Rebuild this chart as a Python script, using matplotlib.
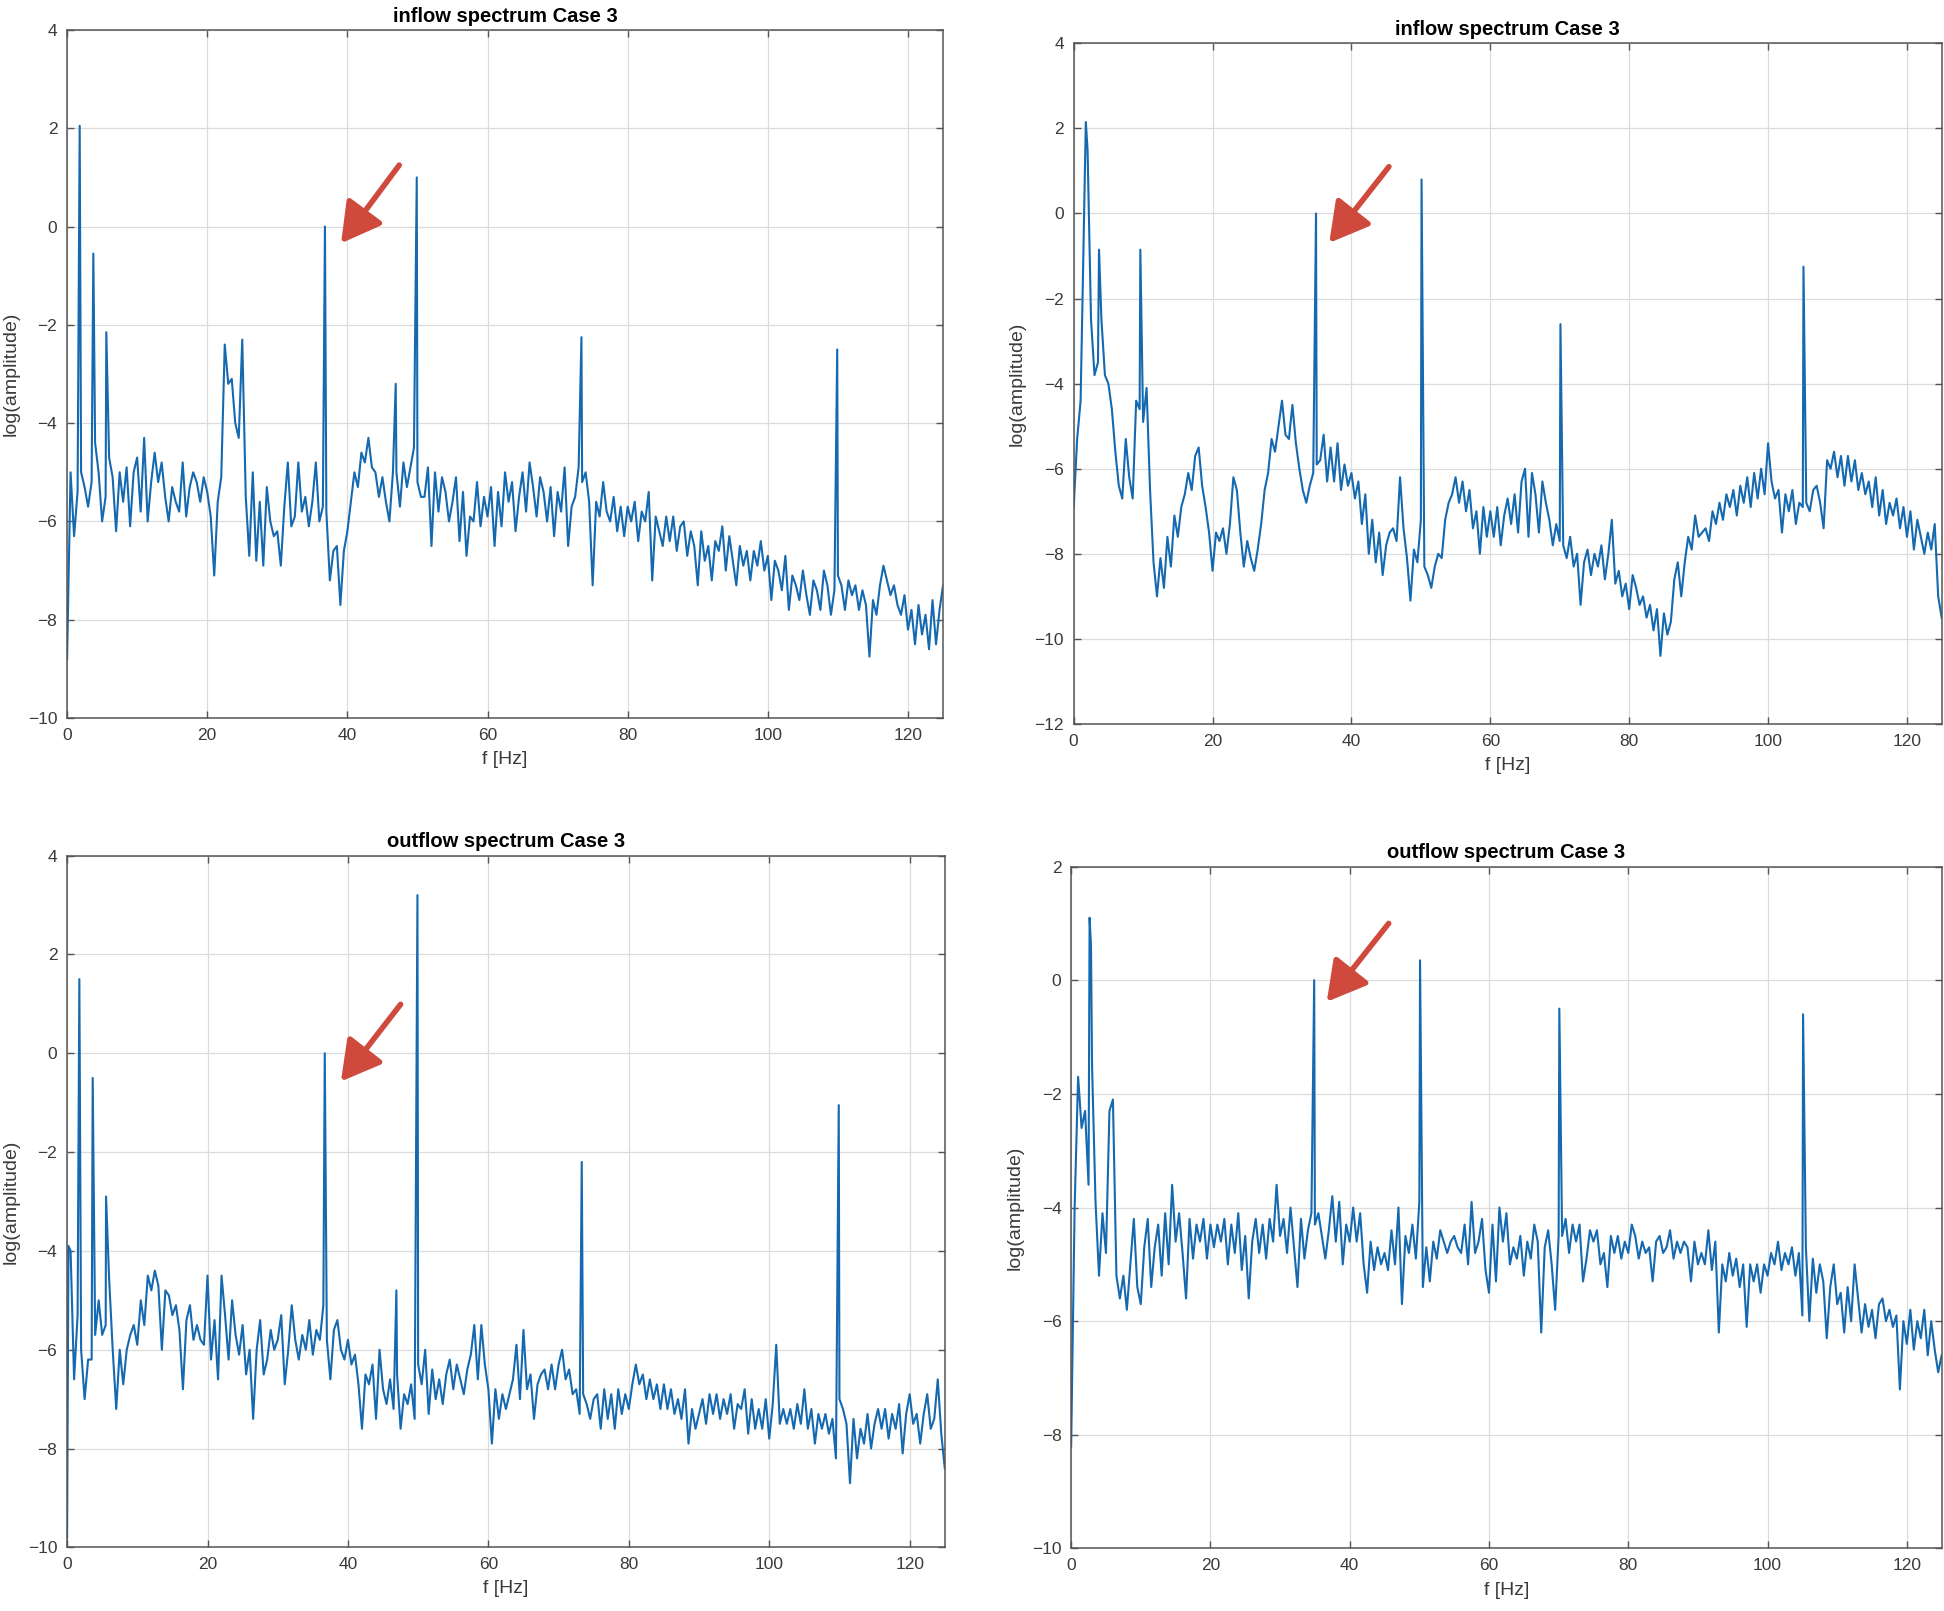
"""
Inflow / outflow spectra, Case 3 (four panels, MATLAB-like styling).
"""

import numpy as np
import matplotlib
matplotlib.use("Agg")
import matplotlib.pyplot as plt

plt.rcParams["font.family"] = ["Liberation Sans", "DejaVu Sans"]

# ---------------------------------------------------------------------------
#  Data: log(amplitude) sampled every 0.5 Hz (one row = 5 Hz), plus spikes
# ---------------------------------------------------------------------------

df = 0.5

inflow_left = [
    -8.8, -5.0, -6.3, -5.4, -5.0, -5.3, -5.7, -5.2, -4.4, -5.0,
    -6.0, -5.5, -4.7, -5.1, -6.2, -5.0, -5.6, -4.9, -6.1, -5.0,
    -4.7, -5.8, -4.3, -6.0, -5.2, -4.6, -5.2, -4.8, -5.5, -6.0,
    -5.3, -5.6, -5.8, -4.8, -5.9, -5.3, -5.0, -5.2, -5.6, -5.1,
    -5.4, -5.9, -7.1, -5.6, -5.1, -2.4, -3.2, -3.1, -4.0, -4.3,
    -2.3, -5.5, -6.7, -5.0, -6.8, -5.6, -6.9, -5.3, -6.0, -6.3,
    -6.2, -6.9, -5.7, -4.8, -6.1, -5.9, -4.8, -5.8, -5.5, -6.1,
    -5.6, -4.8, -6.0, -5.7, -5.8, -7.2, -6.6, -6.5, -7.7, -6.6,
    -6.2, -5.6, -5.0, -5.3, -4.6, -4.8, -4.3, -4.9, -5.0, -5.5,
    -5.1, -5.6, -6.0, -5.0, -5.0, -5.7, -4.8, -5.3, -4.9, -4.5,
    -5.2, -5.5, -5.5, -4.9, -6.5, -5.0, -5.8, -5.1, -5.4, -6.0,
    -5.6, -5.1, -6.4, -5.4, -6.7, -5.9, -6.0, -5.2, -6.1, -5.5,
    -5.9, -5.3, -6.5, -5.4, -6.1, -5.0, -5.6, -5.2, -6.2, -5.5,
    -5.0, -5.8, -4.8, -5.3, -5.9, -5.1, -5.4, -6.0, -5.3, -6.3,
    -5.4, -5.8, -4.9, -6.5, -5.7, -5.5, -4.9, -5.2, -5.0, -5.6,
    -7.3, -5.6, -5.9, -5.2, -5.8, -6.0, -5.5, -6.2, -5.7, -6.3,
    -5.7, -6.0, -5.6, -6.4, -5.8, -6.0, -5.4, -7.2, -5.9, -6.2,
    -6.5, -5.9, -6.4, -5.9, -6.6, -6.1, -6.0, -6.7, -6.2, -6.5,
    -7.3, -6.2, -6.8, -6.5, -7.2, -6.4, -6.6, -6.1, -7.0, -6.3,
    -6.8, -7.3, -6.5, -6.9, -6.6, -7.2, -6.6, -6.9, -6.4, -7.0,
    -6.7, -7.6, -6.8, -7.0, -7.4, -6.7, -7.8, -7.1, -7.3, -7.6,
    -7.0, -7.5, -7.9, -7.2, -7.4, -7.8, -7.0, -7.3, -7.9, -7.4,
    -7.1, -7.3, -7.8, -7.2, -7.5, -7.3, -7.8, -7.4, -7.7, -8.75,
    -7.6, -7.9, -7.3, -6.9, -7.2, -7.5, -7.3, -7.7, -7.9, -7.5,
    -8.2, -7.8, -8.5, -7.7, -8.3, -7.9, -8.6, -7.6, -8.5, -7.8,
    -7.3,
]
inflow_left_peak_f = [1.8, 3.75, 5.6, 36.8, 46.9, 49.9, 73.4, 109.9]
inflow_left_peak_v = [2.05, -0.55, -2.15, 0.0, -3.2, 1.0, -2.25, -2.5]

inflow_right = [
    -6.9, -5.3, -4.4, 0.0, 1.5, -2.5, -3.8, -3.5, -2.5, -3.8,
    -4.0, -4.6, -5.6, -6.4, -6.7, -5.3, -6.2, -6.7, -4.4, -4.6,
    -4.9, -4.1, -6.5, -8.2, -9.0, -8.1, -8.8, -7.6, -8.3, -7.1,
    -7.6, -6.9, -6.6, -6.1, -6.5, -5.7, -5.5, -6.4, -6.9, -7.5,
    -8.4, -7.5, -7.7, -7.4, -8.0, -7.3, -6.2, -6.5, -7.5, -8.3,
    -7.7, -8.1, -8.4, -7.9, -7.3, -6.5, -6.1, -5.3, -5.6, -5.0,
    -4.4, -5.2, -5.3, -4.5, -5.4, -6.0, -6.5, -6.8, -6.4, -6.1,
    -5.9, -5.8, -5.2, -6.3, -5.5, -6.3, -5.4, -6.5, -5.9, -6.4,
    -6.1, -6.7, -6.3, -7.3, -6.6, -8.0, -7.2, -8.2, -7.5, -8.5,
    -7.8, -7.5, -7.4, -7.7, -6.2, -7.4, -8.1, -9.1, -7.9, -8.2,
    -7.2, -8.3, -8.5, -8.8, -8.3, -8.0, -8.1, -7.2, -6.8, -6.6,
    -6.2, -6.8, -6.3, -7.0, -6.5, -7.4, -7.0, -8.0, -6.9, -7.6,
    -7.0, -7.6, -6.9, -7.8, -7.1, -6.7, -7.3, -6.6, -7.5, -6.3,
    -6.0, -7.6, -6.1, -6.6, -7.5, -6.3, -6.8, -7.2, -7.8, -7.3,
    -7.7, -7.8, -8.1, -7.6, -8.3, -8.0, -9.2, -8.2, -7.9, -8.5,
    -8.0, -8.3, -7.8, -8.6, -8.0, -7.2, -8.7, -8.4, -9.0, -8.7,
    -9.3, -8.5, -8.8, -9.2, -9.0, -9.5, -9.2, -9.8, -9.3, -10.4,
    -9.4, -9.9, -9.6, -8.6, -8.2, -9.0, -8.2, -7.6, -7.9, -7.1,
    -7.6, -7.5, -7.4, -7.7, -7.0, -7.3, -6.8, -7.2, -6.6, -6.9,
    -6.5, -7.1, -6.4, -6.8, -6.2, -6.9, -6.1, -6.7, -6.0, -6.6,
    -5.4, -6.3, -6.7, -6.5, -7.5, -6.6, -7.0, -6.5, -7.3, -6.8,
    -6.9, -6.8, -7.0, -6.5, -6.4, -6.8, -7.4, -5.8, -6.0, -5.6,
    -6.2, -5.7, -6.4, -5.7, -6.3, -5.8, -6.5, -6.1, -6.6, -6.3,
    -6.9, -6.2, -7.1, -6.5, -7.3, -6.8, -7.1, -6.7, -7.4, -6.9,
    -7.6, -7.0, -7.9, -7.2, -7.6, -8.0, -7.5, -7.9, -7.3, -9.0,
    -9.5,
]
inflow_right_peak_f = [1.75, 3.65, 9.6, 34.9, 50.1, 70.1, 105.1]
inflow_right_peak_v = [2.15, -0.85, -0.85, 0.0, 0.8, -2.6, -1.25]

outflow_left = [
    -9.8, -4.0, -6.6, -5.3, -6.0, -7.0, -6.2, -6.2, -5.7, -5.0,
    -5.7, -5.5, -4.6, -6.0, -7.2, -6.0, -6.7, -6.0, -5.7, -5.5,
    -5.9, -5.0, -5.5, -4.5, -4.8, -4.4, -4.7, -6.0, -4.8, -4.9,
    -5.3, -5.1, -5.6, -6.8, -5.4, -5.1, -5.8, -5.5, -5.8, -5.9,
    -4.5, -6.2, -5.4, -6.6, -4.5, -5.3, -6.2, -5.0, -5.7, -6.1,
    -5.5, -6.5, -6.0, -7.4, -6.0, -5.4, -6.5, -6.2, -5.6, -6.0,
    -5.8, -5.3, -6.7, -6.0, -5.1, -5.8, -6.2, -5.7, -6.0, -5.4,
    -6.1, -5.6, -5.8, -5.1, -5.8, -6.6, -5.6, -5.4, -6.0, -6.2,
    -5.8, -6.3, -6.1, -6.7, -7.6, -6.5, -6.7, -6.3, -7.4, -6.0,
    -6.8, -7.1, -6.6, -7.2, -6.5, -7.6, -6.9, -7.1, -6.7, -7.4,
    -6.3, -6.7, -6.0, -7.3, -6.4, -7.0, -6.6, -7.1, -6.5, -6.2,
    -6.8, -6.3, -6.6, -6.9, -6.4, -6.1, -5.5, -6.6, -5.5, -6.3,
    -6.8, -7.9, -6.8, -7.4, -6.9, -7.2, -6.9, -6.6, -5.9, -7.0,
    -5.6, -6.8, -6.5, -7.4, -6.7, -6.5, -6.4, -6.8, -6.3, -6.8,
    -6.3, -6.0, -6.6, -6.4, -6.9, -6.8, -7.3, -6.9, -7.1, -7.4,
    -7.0, -6.9, -7.6, -6.8, -7.4, -6.9, -7.6, -6.8, -7.3, -6.9,
    -7.2, -6.7, -6.3, -6.7, -6.5, -7.0, -6.6, -7.0, -6.7, -7.2,
    -6.7, -7.2, -6.8, -7.3, -7.0, -7.4, -6.8, -7.9, -7.2, -7.6,
    -7.3, -7.0, -7.5, -6.9, -7.3, -6.9, -7.4, -7.0, -7.3, -6.9,
    -7.6, -7.1, -7.2, -6.8, -7.7, -7.0, -7.6, -7.2, -7.6, -7.0,
    -7.8, -7.1, -5.9, -7.5, -7.2, -7.5, -7.2, -7.6, -7.1, -7.5,
    -6.8, -7.6, -7.2, -7.9, -7.3, -7.6, -7.3, -7.7, -7.4, -8.2,
    -7.0, -7.2, -7.5, -8.7, -7.4, -8.2, -7.6, -7.9, -7.3, -8.0,
    -7.5, -7.2, -7.6, -7.2, -7.8, -7.3, -7.6, -7.1, -8.1, -7.3,
    -6.9, -7.5, -7.3, -7.9, -7.3, -6.9, -7.6, -7.4, -6.6, -7.7,
    -8.4,
]
outflow_left_peak_f = [0.2, 1.75, 3.65, 5.55, 36.7, 46.9, 49.9, 73.3, 109.9]
outflow_left_peak_v = [-3.9, 1.5, -0.5, -2.9, 0.0, -4.8, 3.2, -2.2, -1.05]

outflow_right = [
    -8.2, -4.0, -1.7, -2.6, -2.3, -3.6, -1.5, -3.9, -5.2, -4.1,
    -4.8, -2.3, -2.1, -5.2, -5.6, -5.2, -5.8, -5.0, -4.2, -5.4,
    -5.7, -4.7, -4.2, -5.4, -4.7, -4.3, -5.2, -4.1, -5.0, -3.6,
    -4.6, -4.1, -4.8, -5.6, -4.2, -4.9, -4.3, -4.6, -4.2, -4.9,
    -4.3, -4.7, -4.3, -4.6, -4.2, -5.0, -4.3, -4.8, -4.1, -5.1,
    -4.5, -5.6, -4.6, -4.2, -4.8, -4.3, -4.9, -4.2, -4.6, -3.6,
    -4.5, -4.2, -4.8, -4.0, -4.7, -5.4, -4.2, -4.9, -4.4, -4.1,
    -4.3, -4.1, -4.5, -4.9, -4.4, -3.8, -4.6, -3.9, -5.0, -4.3,
    -4.6, -4.0, -4.6, -4.1, -5.0, -5.5, -4.6, -5.1, -4.7, -5.0,
    -4.8, -5.1, -4.4, -5.0, -4.0, -5.7, -4.5, -4.8, -4.3, -4.9,
    -3.9, -5.4, -4.7, -5.3, -4.6, -4.9, -4.4, -4.6, -4.8, -4.6,
    -4.5, -4.7, -4.8, -4.3, -5.0, -3.9, -4.8, -4.6, -4.2, -5.1,
    -5.5, -4.3, -5.3, -4.0, -4.6, -4.1, -5.0, -4.7, -4.9, -4.5,
    -5.2, -4.6, -4.9, -4.3, -4.6, -6.2, -4.7, -4.4, -5.0, -5.8,
    -4.5, -4.5, -4.2, -4.8, -4.3, -4.6, -4.3, -5.3, -4.9, -4.4,
    -4.6, -4.4, -5.0, -4.8, -5.4, -4.5, -4.8, -4.5, -4.9, -4.6,
    -4.8, -4.3, -4.5, -4.9, -4.6, -4.8, -4.7, -5.3, -4.6, -4.5,
    -4.8, -4.7, -4.4, -4.9, -4.6, -4.8, -4.6, -4.7, -5.3, -4.6,
    -5.0, -4.8, -5.0, -4.4, -5.1, -4.6, -6.2, -5.0, -5.3, -4.8,
    -5.2, -4.9, -5.4, -5.0, -6.1, -5.0, -5.3, -5.0, -5.5, -5.0,
    -5.2, -4.8, -5.0, -4.6, -5.1, -4.8, -5.0, -4.7, -5.2, -4.8,
    -5.9, -4.7, -6.0, -4.9, -5.5, -5.0, -5.3, -6.3, -5.4, -5.0,
    -5.7, -5.5, -6.2, -5.4, -6.0, -5.0, -5.6, -6.2, -5.7, -6.1,
    -5.8, -6.3, -5.7, -5.6, -6.0, -5.8, -6.1, -5.9, -7.2, -6.0,
    -6.4, -5.8, -6.5, -6.0, -6.3, -5.8, -6.6, -6.0, -6.5, -6.9,
    -6.6,
]
outflow_right_peak_f = [2.65, 2.85, 34.9, 50.1, 70.1, 105.1]
outflow_right_peak_v = [1.1, 0.6, 0.0, 0.35, -0.5, -0.6]

titles = ["inflow spectrum Case 3", "inflow spectrum Case 3",
          "outflow spectrum Case 3", "outflow spectrum Case 3"]
x_ticks = [0, 20, 40, 60, 80, 100, 120]
y_limits = [(-10, 4), (-12, 4), (-10, 4), (-10, 2)]

# red arrows pointing at the ~36 Hz line: (tail x, tail y, head x, head y)
arrows = [(47.4, 1.25, 39.1, -0.34),
          (45.4, 1.10, 36.8, -0.69),
          (47.5, 0.99, 39.0, -0.57),
          (45.6, 1.00, 36.7, -0.38)]

# axes rectangles in figure fractions [left, bottom, width, height]
positions = [[0.0345, 0.5543, 0.4506, 0.4271],
             [0.5523, 0.5506, 0.4465, 0.4225],
             [0.0345, 0.0395, 0.4515, 0.4294],
             [0.5510, 0.0388, 0.4478, 0.4233]]

LINE_COLOR = "#1469b0"
TEXT_COLOR = "#3a3a3a"


def build_series(values, peak_f, peak_v):
    """Merge the regular 0.5 Hz samples with the narrow spectral lines."""
    f = np.arange(len(values)) * df
    x = np.concatenate([f, np.asarray(peak_f, float)])
    y = np.concatenate([np.asarray(values, float), np.asarray(peak_v, float)])
    order = np.argsort(x, kind="stable")
    return x[order], y[order]


series = [build_series(inflow_left, inflow_left_peak_f, inflow_left_peak_v),
          build_series(inflow_right, inflow_right_peak_f, inflow_right_peak_v),
          build_series(outflow_left, outflow_left_peak_f, outflow_left_peak_v),
          build_series(outflow_right, outflow_right_peak_f, outflow_right_peak_v)]

fig = plt.figure(figsize=(19.44, 16.11), dpi=100)

for i, (x, y) in enumerate(series):
    ax = fig.add_axes(positions[i])
    ax.plot(x, y, color=LINE_COLOR, linewidth=1.5)

    ymin, ymax = y_limits[i]
    ax.set_xlim(0, 125)
    ax.set_ylim(ymin, ymax)
    ax.set_xticks(x_ticks)
    ax.set_yticks(np.arange(ymin, ymax + 1, 2))

    ax.grid(True, color="#dcdcdc", linewidth=0.9)
    ax.set_axisbelow(True)
    ax.tick_params(direction="in", top=True, right=True, length=5,
                   width=1.0, colors="#555555", labelcolor=TEXT_COLOR,
                   labelsize=12.5, pad=7)
    for spine in ax.spines.values():
        spine.set_color("#555555")
        spine.set_linewidth(1.1)

    ax.set_title(titles[i], fontsize=14.5, fontweight="bold", pad=6)
    ax.set_xlabel("f [Hz]", fontsize=14, color=TEXT_COLOR, labelpad=6)
    ax.set_ylabel("log(amplitude)", fontsize=14, color=TEXT_COLOR, labelpad=6)

    tx, ty, hx, hy = arrows[i]
    ax.annotate("", xy=(hx, hy), xytext=(tx, ty),
                arrowprops=dict(arrowstyle="-|>,head_length=0.8,head_width=0.45",
                                color="#cf4a3c", lw=4.0, mutation_scale=30,
                                shrinkA=0, shrinkB=0))

fig.savefig("out.png", dpi=100)
